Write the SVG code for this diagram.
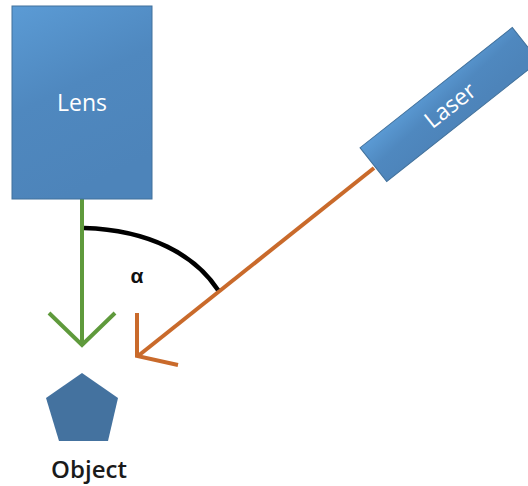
<svg xmlns="http://www.w3.org/2000/svg" width="528" height="486" viewBox="0 0 528 486">
  <defs>
    <linearGradient id="blueFill" x1="0" y1="0" x2="0.35" y2="1">
      <stop offset="0" stop-color="#5b9bd5"/>
      <stop offset="0.5" stop-color="#4f88bf"/>
      <stop offset="1" stop-color="#4d84ba"/>
    </linearGradient>
    <style>
      .box { fill: url(#blueFill); stroke: #41719c; stroke-width: 1; }
      .label { font-family: "Open Sans", "Liberation Sans", sans-serif; font-size: 23px; fill: #ffffff; text-anchor: middle; dominant-baseline: central; }
      .caption { font-family: "Open Sans", "Liberation Sans", sans-serif; font-size: 24px; font-weight: 600; fill: #1a1a1a; text-anchor: middle; }
      .beam { fill: none; stroke-width: 4; stroke-linecap: butt; stroke-linejoin: miter; }
      .green { stroke: #5f9a3c; }
      .orange { stroke: #c96a2b; }
    </style>
  </defs>

  <g id="connectors">
    <!-- lens viewing axis -->
    <path class="beam green" d="M82,199 L82,344"/>
    <path class="beam green" d="M49,313 L82,345 L115,313"/>
    <!-- laser beam -->
    <path class="beam orange" d="M374,168 L138,356"/>
    <path class="beam orange" d="M137,313 L137,356 L178,365"/>
    <!-- angle arc -->
    <path d="M84,228 C150,230 195,255 218,290" fill="none" stroke="#000000" stroke-width="4.5"/>
    <text x="137" y="283" font-family="Liberation Sans, sans-serif" font-size="21" font-weight="bold" fill="#111111" text-anchor="middle">α</text>
  </g>

  <g id="lens">
    <rect class="box" x="12" y="6" width="140" height="193"/>
    <text class="label" x="82" y="102">Lens</text>
  </g>

  <g id="laser" transform="translate(449.5,104.5) rotate(-38.3)">
    <rect class="box" x="-97" y="-21.5" width="194" height="43"/>
    <text class="label" x="0" y="0">Laser</text>
  </g>

  <g id="object">
    <polygon points="82,373 118,398 108,441 59,441 46,398" fill="#44729f"/>
    <text class="caption" x="89" y="478">Object</text>
  </g>
</svg>
